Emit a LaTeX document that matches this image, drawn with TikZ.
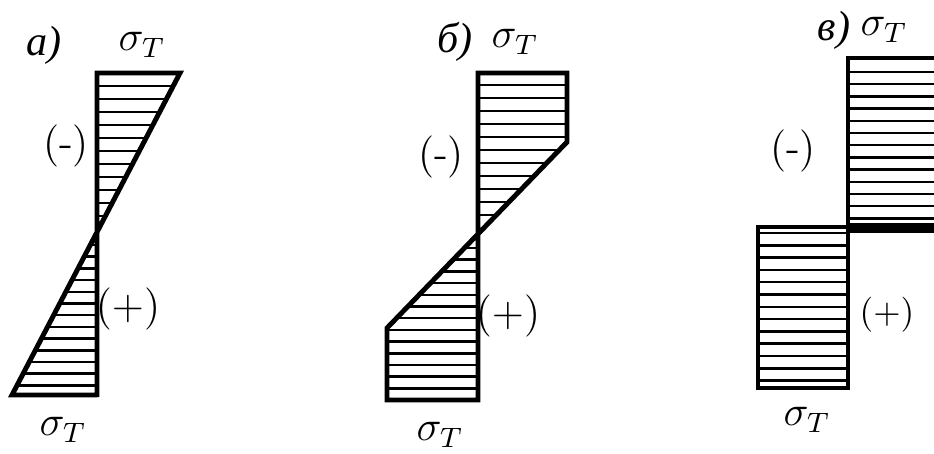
\documentclass[tikz,border=0pt]{standalone}
\usepackage{fontspec}
\newfontfamily\cyrfont{Liberation Serif}
\usepackage{tikz}
\tikzset{
  epure/.style={line width=1.4pt,line join=miter},
  hatch/.style={line width=0.7pt},
  sig/.style={font=\large},
  signlbl/.style={font=\large},
  figtag/.style={font=\large\cyrfont\itshape}
}

\begin{document}
\begin{tikzpicture}[x=0.01cm,y=-0.01cm]
  \useasboundingbox (0,0) rectangle (934,453);
  % a) linear epure
  \begin{scope}
    \clip (97,73)--(180,73)--(12,395)--(97,395)--cycle;
    \foreach \y in {86,99,...,225}{\draw[hatch] (0,\y)--(200,\y);}
    \foreach \y in {245,256.7,...,390}{\draw[hatch] (0,\y)--(200,\y);}
  \end{scope}
  \draw[epure] (97,397)--(97,73)--(180,73)--(12,395)--(97,395);
  \node[figtag] (tagA) at (44,45) {а)};
  \node[sig] (sigAtop) at (142,45) {$\sigma_T$};
  \node[signlbl] (minA) at (66,146) {(-)};
  \node[signlbl] (plusA) at (128,309) {$(+)$};
  \node[sig] (sigAbot) at (63,430) {$\sigma_T$};
  % b) elastic-plastic epure
  \begin{scope}
    \clip (478,73)--(567,73)--(567,142)--(387,328)--(387,400)--(478,400)--cycle;
    \foreach \y in {85,98,...,225}{\draw[hatch] (370,\y)--(580,\y);}
    \foreach \y in {248,259.7,...,392}{\draw[hatch] (370,\y)--(580,\y);}
  \end{scope}
  \draw[epure] (478,400)--(478,73)--(567,73)--(567,142)--(387,328)--(387,400)--cycle;
  \node[figtag] (tagB) at (455,42) {б)};
  \node[sig] (sigBtop) at (515,42) {$\sigma_T$};
  \node[signlbl] (minB) at (441,157) {(-)};
  \node[signlbl] (plusB) at (508,316) {$(+)$};
  \node[sig] (sigBbot) at (440,435) {$\sigma_T$};
  % c) fully plastic epure
  \foreach \y in {72,84.2,...,222}{\draw[hatch] (848,\y)--(934,\y);}
  \foreach \y in {233,245.3,...,384}{\draw[hatch] (758,\y)--(848,\y);}
  \draw[epure] (934,58)--(848,58)--(848,228);
  \draw[line width=2.6pt] (846,228)--(934,228);
  \draw[epure] (758,227) rectangle (848,388);
  \node[figtag] (tagC) at (834,30) {в)};
  \node[sig] (sigCtop) at (884,30) {$\sigma_T$};
  \node[signlbl] (minC) at (793,151) {(-)};
  \node[font=\normalsize] (plusC) at (887,315) {$(+)$};
  \node[sig] (sigCbot) at (807,420) {$\sigma_T$};
\end{tikzpicture}
\end{document}
